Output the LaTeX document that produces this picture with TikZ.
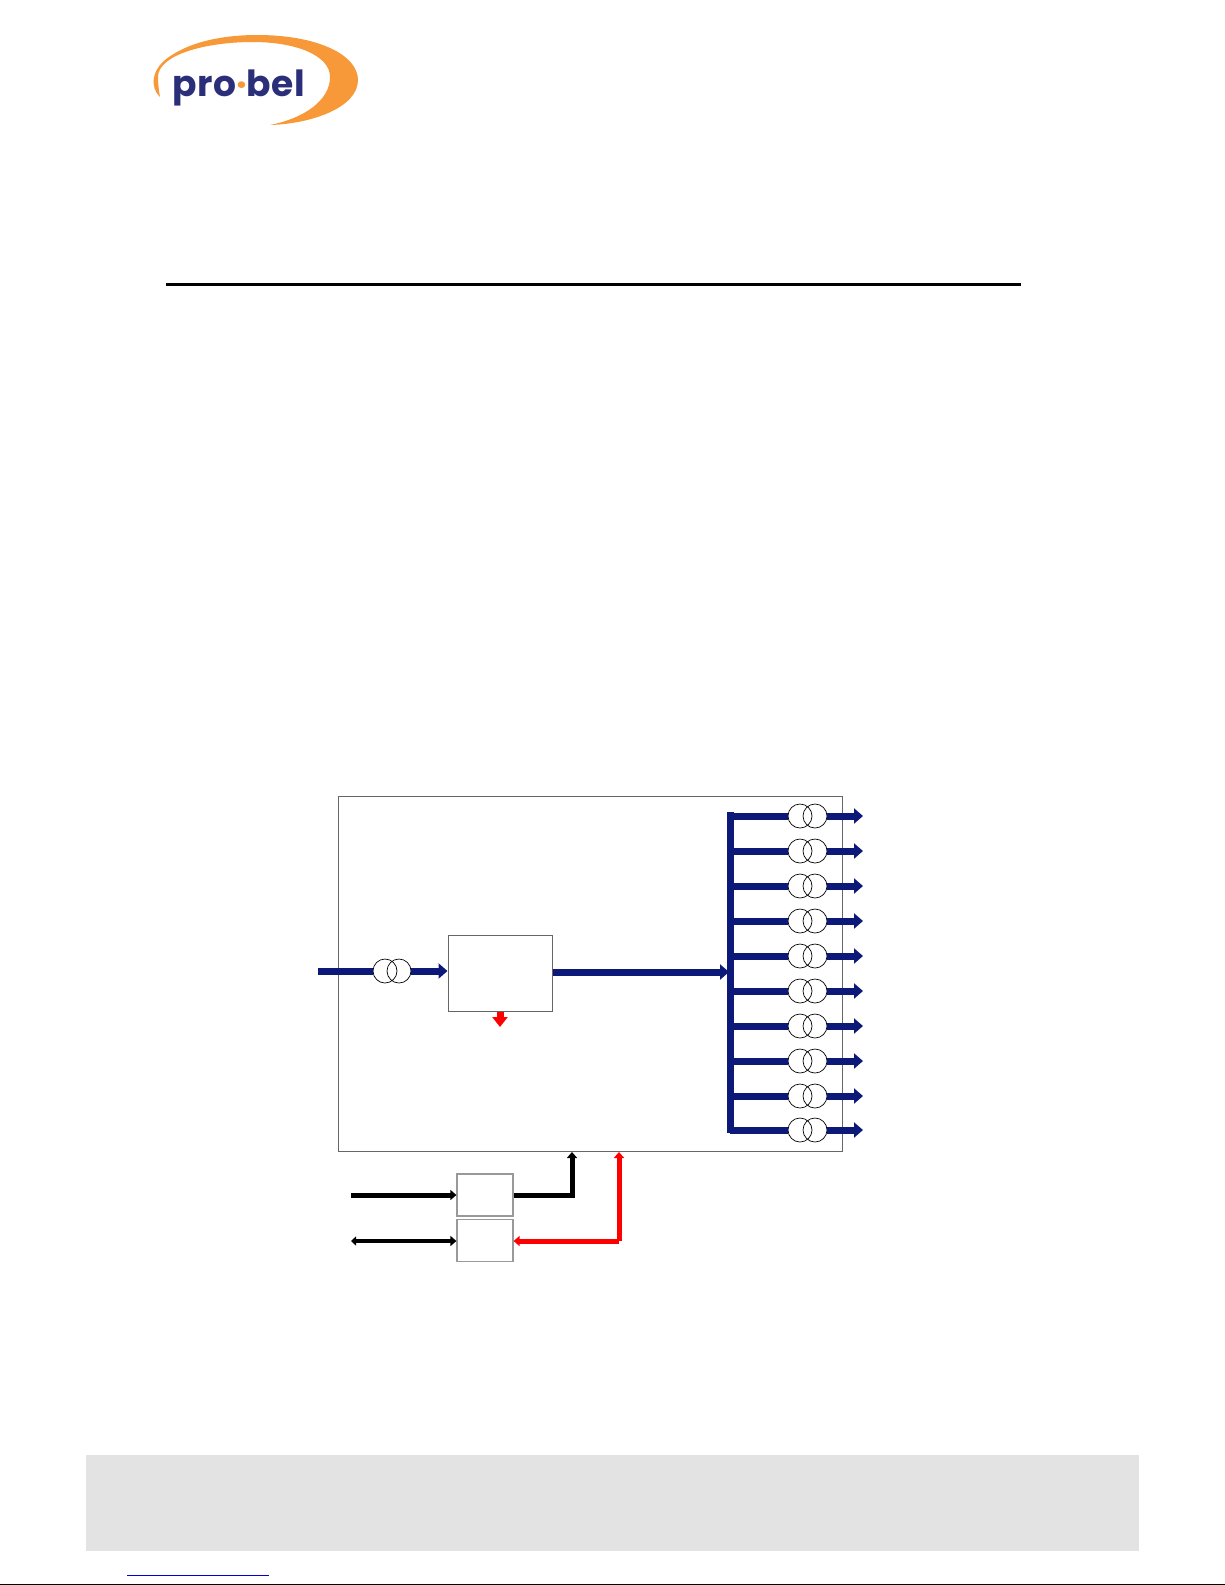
\documentclass[tikz,border=0pt]{standalone}
\usepackage{fontspec}
\newfontfamily\logofont[LetterSpace=1.5]{Poppins}
\usetikzlibrary{arrows.meta}
\definecolor{navy}{rgb}{0.05, 0.10, 0.47}
\definecolor{logoblue}{rgb}{0.17, 0.18, 0.47}
\definecolor{logoorange}{rgb}{0.97, 0.60, 0.22}
\definecolor{barfill}{rgb}{0.89, 0.89, 0.89}
\tikzset{
 xfmr/.style={circle,draw,line width=0.7pt,minimum size=24pt,inner sep=0pt},
 sigline/.style={navy,line width=7pt},
 sigarrow/.style={navy,line width=7pt,-{Triangle[length=9pt,width=15pt]}},
 redarrow/.style={red,line width=5pt,-{Triangle[length=6pt,width=10pt]}},
 blockbox/.style={rectangle,draw=black!60,line width=1pt,inner sep=0pt},
 ctlbox/.style={rectangle,draw=black!40,line width=1.2pt,inner sep=0pt,minimum width=56pt,minimum height=42pt},
 ctlarrow/.style={black,line width=5pt,-{Triangle[length=6pt,width=10pt]}}
}
\begin{document}
\begin{tikzpicture}[x=1pt,y=-1pt]
 \useasboundingbox (0,0) rectangle (1225,1585);

 % logo
 \fill[logoorange] (160,97) .. controls (150,88) and (150,68) .. (172,55) .. controls (195,40) and (228,35) .. (257,35) .. controls (318,35) and (358,55) .. (358,80) .. controls (358,108) and (310,124) .. (270,125) .. controls (305,118) and (330,100) .. (330,77) .. controls (330,55) and (295,42) .. (253,42) .. controls (205,42) and (158,55) .. (158,77) .. controls (158,85) and (159,91) .. (160,97) -- cycle;
 \node[anchor=base west,inner sep=0pt,text=logoblue,font=\logofont\bfseries\fontsize{36}{36}\selectfont] (logotext) at (172,96) {pro{\color{logoorange}·}bel};

 \draw[line width=3pt] (166,284) -- (1021,284);
 \node[rectangle,fill=barfill,minimum width=1053pt,minimum height=96pt,inner sep=0pt] (footerbar) at (612.5,1503) {};
 \draw[blue!85!black,line width=1pt] (127,1575) -- (269,1575);
 \draw[line width=1pt] (0,1584.5) -- (1225,1584.5);

 \node[rectangle,draw=black!60,line width=1pt,minimum width=504pt,minimum height=355pt,inner sep=0pt] (mainbox) at (590,973.5) {};
 \node[blockbox,minimum width=104pt,minimum height=76pt] (blocka) at (500,973) {};
 \node[ctlbox] (ctlone) at (485,1195) {};
 \node[ctlbox] (ctltwo) at (485,1240.5) {};

 \coordinate (sigin) at (318,971);
 \coordinate (busin) at (729,972);
 \coordinate (bustop) at (730,812);
 \coordinate (busbot) at (730,1133);
 \coordinate (alarmend) at (500,1027);
 \coordinate (refin) at (351,1195);
 \coordinate (remote) at (351,1241);
 \coordinate (refcorner) at (572,1195);
 \coordinate (refend) at (572,1152);
 \coordinate (alarmcorner) at (619,1241);
 \coordinate (alarmtop) at (619,1152);

 % input side
 \node[xfmr] (inl) at (385,971) {};
 \node[xfmr] (inr) at (399,971) {};
 \draw[sigline] (sigin) -- (inl.west);
 \draw[sigarrow] (inr.east) -- (blocka.west |- inr.east);
 \draw[sigarrow] (blocka.east |- busin) -- (busin);
 \draw[red,line width=7pt,-{Triangle[length=10pt,width=15pt]}] (blocka.south) -- (alarmend);

 % outputs
 \draw[sigline] (bustop) -- (busbot);
 \node[xfmr] (l1) at (800,816) {};
 \node[xfmr] (r1) at (815,816) {};
 \node[xfmr] (l2) at (800,851) {};
 \node[xfmr] (r2) at (815,851) {};
 \node[xfmr] (l3) at (800,886) {};
 \node[xfmr] (r3) at (815,886) {};
 \node[xfmr] (l4) at (800,921) {};
 \node[xfmr] (r4) at (815,921) {};
 \node[xfmr] (l5) at (800,956) {};
 \node[xfmr] (r5) at (815,956) {};
 \node[xfmr] (l6) at (800,991) {};
 \node[xfmr] (r6) at (815,991) {};
 \node[xfmr] (l7) at (800,1026) {};
 \node[xfmr] (r7) at (815,1026) {};
 \node[xfmr] (l8) at (800,1061) {};
 \node[xfmr] (r8) at (815,1061) {};
 \node[xfmr] (l9) at (800,1096) {};
 \node[xfmr] (r9) at (815,1096) {};
 \node[xfmr] (l10) at (800,1130) {};
 \node[xfmr] (r10) at (815,1130) {};
 \coordinate (o1) at (863,816);
 \coordinate (o2) at (863,851);
 \coordinate (o3) at (863,886);
 \coordinate (o4) at (863,921);
 \coordinate (o5) at (863,956);
 \coordinate (o6) at (863,991);
 \coordinate (o7) at (863,1026);
 \coordinate (o8) at (863,1061);
 \coordinate (o9) at (863,1096);
 \coordinate (o10) at (863,1130);
 \draw[sigline] (bustop |- l1) -- (l1.west);
 \draw[sigline] (bustop |- l2) -- (l2.west);
 \draw[sigline] (bustop |- l3) -- (l3.west);
 \draw[sigline] (bustop |- l4) -- (l4.west);
 \draw[sigline] (bustop |- l5) -- (l5.west);
 \draw[sigline] (bustop |- l6) -- (l6.west);
 \draw[sigline] (bustop |- l7) -- (l7.west);
 \draw[sigline] (bustop |- l8) -- (l8.west);
 \draw[sigline] (bustop |- l9) -- (l9.west);
 \draw[sigline] (bustop |- l10) -- (l10.west);
 \draw[sigarrow] (r1.east) -- (o1);
 \draw[sigarrow] (r2.east) -- (o2);
 \draw[sigarrow] (r3.east) -- (o3);
 \draw[sigarrow] (r4.east) -- (o4);
 \draw[sigarrow] (r5.east) -- (o5);
 \draw[sigarrow] (r6.east) -- (o6);
 \draw[sigarrow] (r7.east) -- (o7);
 \draw[sigarrow] (r8.east) -- (o8);
 \draw[sigarrow] (r9.east) -- (o9);
 \draw[sigarrow] (r10.east) -- (o10);

 % below the frame
 \draw[ctlarrow] (refin) -- (ctlone.west);
 \draw[black,line width=4pt,{Triangle[length=5pt,width=9pt]}-{Triangle[length=6pt,width=10pt]}] (remote) -- (ctltwo.west |- remote);
 \draw[ctlarrow] (ctlone.east) -- (refcorner) -- (refend);
 \draw[redarrow] (alarmtop |- alarmcorner) -- (ctltwo.east |- alarmcorner);
 \draw[redarrow] (alarmcorner) -- (alarmtop);
\end{tikzpicture}
\end{document}
